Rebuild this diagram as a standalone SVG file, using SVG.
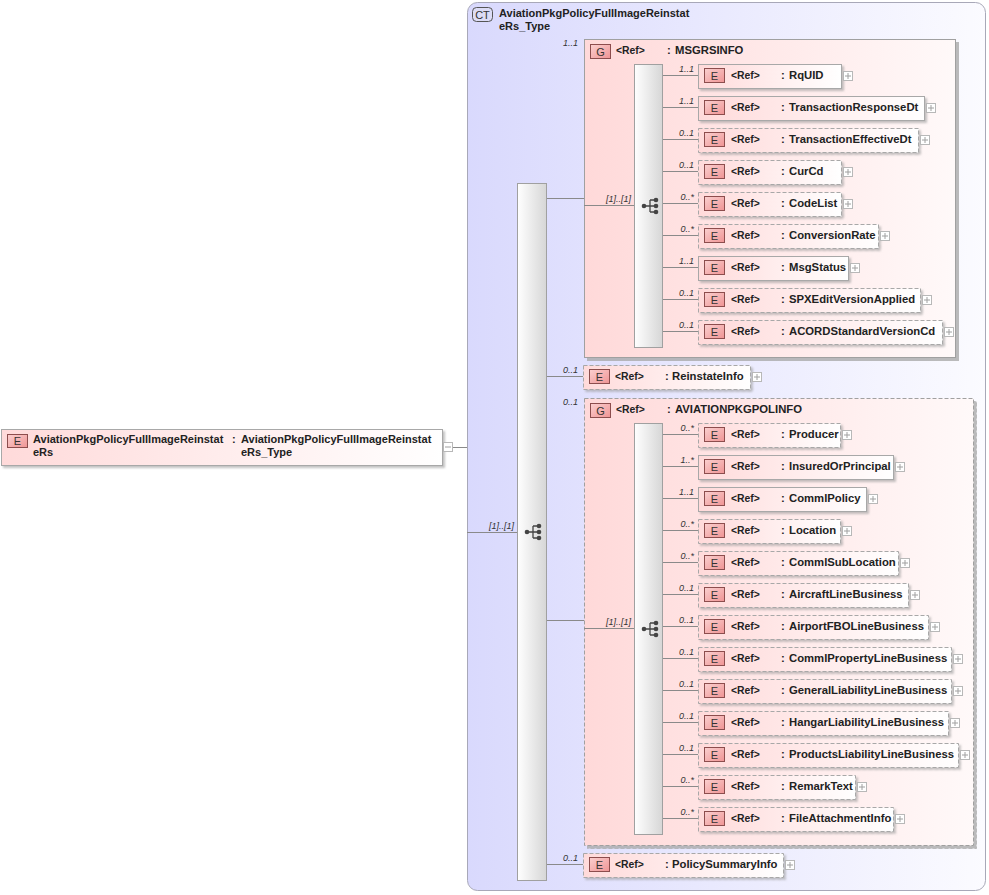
<svg xmlns="http://www.w3.org/2000/svg" width="989" height="895" viewBox="0 0 989 895">
<defs>
<linearGradient id="gCT" x1="0" y1="0" x2="1" y2="0"><stop offset="0" stop-color="#d9d9fd"/><stop offset="1" stop-color="#fbfbff"/></linearGradient>
<linearGradient id="gGrp" x1="0" y1="0" x2="1" y2="0"><stop offset="0" stop-color="#ffd9d9"/><stop offset="1" stop-color="#fff9f9"/></linearGradient>
<linearGradient id="gEl" x1="0" y1="0" x2="1" y2="0"><stop offset="0" stop-color="#ffdada"/><stop offset="1" stop-color="#ffffff"/></linearGradient>
<linearGradient id="gSeq" x1="0" y1="0" x2="1" y2="0"><stop offset="0" stop-color="#ffffff"/><stop offset="1" stop-color="#d6d6d6"/></linearGradient>
<linearGradient id="gBadge" x1="0" y1="0" x2="1" y2="1"><stop offset="0" stop-color="#fbd0d0"/><stop offset="1" stop-color="#ef9494"/></linearGradient>
<filter id="sh" x="-5%" y="-5%" width="110%" height="130%"><feDropShadow dx="2" dy="2" stdDeviation="0.8" flood-color="#999" flood-opacity="0.6"/></filter>
<filter id="shg" x="-5%" y="-5%" width="110%" height="110%"><feDropShadow dx="3" dy="3" stdDeviation="0.5" flood-color="#aaa" flood-opacity="0.8"/></filter>
</defs>
<style>
text{font-family:"Liberation Sans",Arial,sans-serif;fill:#222}
.ct{fill:url(#gCT);stroke:#a8a8b8;stroke-width:1}
.grp{fill:url(#gGrp);stroke:#a0a0a0;stroke-width:1;filter:url(#shg)}
.el{fill:url(#gEl);stroke:#a8a8a8;stroke-width:1;filter:url(#sh)}
.opt{stroke-dasharray:4 2}
.seq{fill:url(#gSeq);stroke:#a0a0a0;stroke-width:1}
.badge{fill:url(#gBadge);stroke:#8c4d4d;stroke-width:1}
.ctb{fill:#dcdcf6;stroke:#555;stroke-width:1}
.bt{font-size:11px;text-anchor:middle;fill:#333}
.ref{font-size:10.4px;font-weight:bold}
.nm{font-size:11px;font-weight:bold}
.rn{font-size:11.3px;font-weight:bold}
.occ{font-size:9px;font-style:italic;text-anchor:end;fill:#333}
.pl{fill:#fff;stroke:#b8b8b8;stroke-width:1}
.plx{stroke:#a0a0a0;stroke-width:1;fill:none}
.ln{stroke:#8a8a8a;stroke-width:1;fill:none}
.ic{stroke:#444;stroke-width:1.3;fill:none}
.icd{fill:#444}
</style>

<g id="ct-AviationPkgPolicyFullImageReinstatRs_Type">
<rect class="ct" x="467.5" y="2.5" width="518" height="888" rx="10"/>
<rect class="ctb" x="472.5" y="7.5" width="20" height="14" rx="4"/>
<text class="bt" x="482.5" y="18.5">CT</text>
<text class="nm" x="499" y="17">AviationPkgPolicyFullImageReinstat</text>
<text class="nm" x="499" y="30">eRs_Type</text>
</g>

<g id="grp-MSGRSINFO">
<rect class="grp" x="584.5" y="39.5" width="371" height="318"/>
<rect class="badge" x="590.5" y="44.5" width="20" height="14"/>
<text class="bt" x="600.5" y="55.5">G</text>
<text class="ref" x="616" y="54">&lt;Ref&gt;</text>
<text class="rn" x="667" y="54">:</text><text class="rn" x="675" y="54">MSGRSINFO</text>
</g>

<g id="grp-AVIATIONPKGPOLINFO">
<rect class="grp opt" x="584.5" y="398.5" width="389" height="447"/>
<rect class="badge" x="590.5" y="403.5" width="20" height="14"/>
<text class="bt" x="600.5" y="414.5">G</text>
<text class="ref" x="616" y="413">&lt;Ref&gt;</text>
<text class="rn" x="667" y="413">:</text><text class="rn" x="675" y="413">AVIATIONPKGPOLINFO</text>
</g>

<g id="seq-main">
<rect class="seq" x="517.5" y="183.5" width="29" height="697"/>
<path class="ic" d="M527 532H533M533 526V538M533 526H539M533 532H539M533 538H539"/>
<circle class="icd" cx="527" cy="532" r="2.3"/><circle class="icd" cx="539" cy="526" r="2.3"/><circle class="icd" cx="539" cy="532" r="2.3"/><circle class="icd" cx="539" cy="538" r="2.3"/>
</g>
<g id="seq-MSGRSINFO">
<rect class="seq" x="634.5" y="64.5" width="28" height="283"/>
<path class="ic" d="M644 206H650M650 200V212M650 200H656M650 206H656M650 212H656"/>
<circle class="icd" cx="644" cy="206" r="2.3"/><circle class="icd" cx="656" cy="200" r="2.3"/><circle class="icd" cx="656" cy="206" r="2.3"/><circle class="icd" cx="656" cy="212" r="2.3"/>
</g>
<g id="seq-AVIATIONPKGPOLINFO">
<rect class="seq" x="634.5" y="423.5" width="28" height="411"/>
<path class="ic" d="M644 629H650M650 623V635M650 623H656M650 629H656M650 635H656"/>
<circle class="icd" cx="644" cy="629" r="2.3"/><circle class="icd" cx="656" cy="623" r="2.3"/><circle class="icd" cx="656" cy="629" r="2.3"/><circle class="icd" cx="656" cy="635" r="2.3"/>
</g>

<g id="connectors">
<path class="ln" d="M453 447.5H467M467 532.5H517M547 198.5H584M584 205.5H634M547 376.5H583M547 620.5H584M584 628.5H634M547 864.5H583"/>
<path class="ln" d="M663 75.5H698M663 107.5H698M663 139.5H698M663 171.5H698M663 203.5H698M663 235.5H698M663 267.5H698M663 299.5H698M663 331.5H698"/>
<path class="ln" d="M663 434.5H698M663 466.5H698M663 498.5H698M663 530.5H698M663 562.5H698M663 594.5H698M663 626.5H698M663 658.5H698M663 690.5H698M663 722.5H698M663 754.5H698M663 786.5H698M663 818.5H698"/>
<text class="occ" x="514" y="529">[1]..[1]</text>
<text class="occ" x="631" y="202">[1]..[1]</text>
<text class="occ" x="631" y="625">[1]..[1]</text>
<text class="occ" x="578" y="46">1..1</text>
<text class="occ" x="578" y="373">0..1</text>
<text class="occ" x="578" y="405">0..1</text>
<text class="occ" x="578" y="861">0..1</text>
<text class="occ" x="694" y="72">1..1</text>
<text class="occ" x="694" y="104">1..1</text>
<text class="occ" x="694" y="136">0..1</text>
<text class="occ" x="694" y="168">0..1</text>
<text class="occ" x="694" y="200">0..*</text>
<text class="occ" x="694" y="232">0..*</text>
<text class="occ" x="694" y="264">1..1</text>
<text class="occ" x="694" y="296">0..1</text>
<text class="occ" x="694" y="328">0..1</text>
<text class="occ" x="694" y="431">0..*</text>
<text class="occ" x="694" y="463">1..*</text>
<text class="occ" x="694" y="495">1..1</text>
<text class="occ" x="694" y="527">0..*</text>
<text class="occ" x="694" y="559">0..*</text>
<text class="occ" x="694" y="591">0..1</text>
<text class="occ" x="694" y="623">0..1</text>
<text class="occ" x="694" y="655">0..1</text>
<text class="occ" x="694" y="687">0..1</text>
<text class="occ" x="694" y="719">0..1</text>
<text class="occ" x="694" y="751">0..1</text>
<text class="occ" x="694" y="783">0..*</text>
<text class="occ" x="694" y="815">0..*</text>
</g>

<g id="el-AviationPkgPolicyFullImageReinstatRs">
<rect class="el" x="1.5" y="429.5" width="441" height="36"/>
<rect class="badge" x="7.5" y="434.5" width="20" height="13"/>
<text class="bt" x="17.5" y="445">E</text>
<text class="nm" x="33" y="443">AviationPkgPolicyFullImageReinstat</text>
<text class="nm" x="33" y="456">eRs</text>
<text class="nm" x="232" y="443">:</text>
<text class="nm" x="241" y="443">AviationPkgPolicyFullImageReinstat</text>
<text class="nm" x="241" y="456">eRs_Type</text>
<rect class="pl" x="443.5" y="442.5" width="9" height="9"/><path class="plx" d="M445 447H451"/>
</g>

<g id="el-RqUID"><rect class="el" x="698.5" y="64.5" width="143" height="24"/><rect class="badge" x="704.5" y="68.5" width="20" height="14"/><text class="bt" x="714.5" y="79.5">E</text><text class="ref" x="731" y="79">&lt;Ref&gt;</text><text class="rn" x="781" y="79">:</text><text class="rn" x="789" y="79">RqUID</text><rect class="pl" x="843.5" y="71.5" width="9" height="9"/><path class="plx" d="M845 76H851M848 73V79"/></g>
<g id="el-TransactionResponseDt"><rect class="el" x="698.5" y="96.5" width="226" height="24"/><rect class="badge" x="704.5" y="100.5" width="20" height="14"/><text class="bt" x="714.5" y="111.5">E</text><text class="ref" x="731" y="111">&lt;Ref&gt;</text><text class="rn" x="781" y="111">:</text><text class="rn" x="789" y="111">TransactionResponseDt</text><rect class="pl" x="926.5" y="103.5" width="9" height="9"/><path class="plx" d="M928 108H934M931 105V111"/></g>
<g id="el-TransactionEffectiveDt"><rect class="el opt" x="698.5" y="128.5" width="220" height="24"/><rect class="badge" x="704.5" y="132.5" width="20" height="14"/><text class="bt" x="714.5" y="143.5">E</text><text class="ref" x="731" y="143">&lt;Ref&gt;</text><text class="rn" x="781" y="143">:</text><text class="rn" x="789" y="143">TransactionEffectiveDt</text><rect class="pl" x="920.5" y="135.5" width="9" height="9"/><path class="plx" d="M922 140H928M925 137V143"/></g>
<g id="el-CurCd"><rect class="el opt" x="698.5" y="160.5" width="143" height="24"/><rect class="badge" x="704.5" y="164.5" width="20" height="14"/><text class="bt" x="714.5" y="175.5">E</text><text class="ref" x="731" y="175">&lt;Ref&gt;</text><text class="rn" x="781" y="175">:</text><text class="rn" x="789" y="175">CurCd</text><rect class="pl" x="843.5" y="167.5" width="9" height="9"/><path class="plx" d="M845 172H851M848 169V175"/></g>
<g id="el-CodeList"><rect class="el opt" x="698.5" y="192.5" width="143" height="24"/><rect class="badge" x="704.5" y="196.5" width="20" height="14"/><text class="bt" x="714.5" y="207.5">E</text><text class="ref" x="731" y="207">&lt;Ref&gt;</text><text class="rn" x="781" y="207">:</text><text class="rn" x="789" y="207">CodeList</text><rect class="pl" x="843.5" y="199.5" width="9" height="9"/><path class="plx" d="M845 204H851M848 201V207"/></g>
<g id="el-ConversionRate"><rect class="el opt" x="698.5" y="224.5" width="180" height="24"/><rect class="badge" x="704.5" y="228.5" width="20" height="14"/><text class="bt" x="714.5" y="239.5">E</text><text class="ref" x="731" y="239">&lt;Ref&gt;</text><text class="rn" x="781" y="239">:</text><text class="rn" x="789" y="239">ConversionRate</text><rect class="pl" x="880.5" y="231.5" width="9" height="9"/><path class="plx" d="M882 236H888M885 233V239"/></g>
<g id="el-MsgStatus"><rect class="el" x="698.5" y="256.5" width="150" height="24"/><rect class="badge" x="704.5" y="260.5" width="20" height="14"/><text class="bt" x="714.5" y="271.5">E</text><text class="ref" x="731" y="271">&lt;Ref&gt;</text><text class="rn" x="781" y="271">:</text><text class="rn" x="789" y="271">MsgStatus</text><rect class="pl" x="850.5" y="263.5" width="9" height="9"/><path class="plx" d="M852 268H858M855 265V271"/></g>
<g id="el-SPXEditVersionApplied"><rect class="el opt" x="698.5" y="288.5" width="222" height="24"/><rect class="badge" x="704.5" y="292.5" width="20" height="14"/><text class="bt" x="714.5" y="303.5">E</text><text class="ref" x="731" y="303">&lt;Ref&gt;</text><text class="rn" x="781" y="303">:</text><text class="rn" x="789" y="303">SPXEditVersionApplied</text><rect class="pl" x="922.5" y="295.5" width="9" height="9"/><path class="plx" d="M924 300H930M927 297V303"/></g>
<g id="el-ACORDStandardVersionCd"><rect class="el opt" x="698.5" y="320.5" width="244" height="24"/><rect class="badge" x="704.5" y="324.5" width="20" height="14"/><text class="bt" x="714.5" y="335.5">E</text><text class="ref" x="731" y="335">&lt;Ref&gt;</text><text class="rn" x="781" y="335">:</text><text class="rn" x="789" y="335">ACORDStandardVersionCd</text><rect class="pl" x="944.5" y="327.5" width="9" height="9"/><path class="plx" d="M946 332H952M949 329V335"/></g>

<g id="el-ReinstateInfo"><rect class="el opt" x="583.5" y="365.5" width="167" height="24"/><rect class="badge" x="589.5" y="369.5" width="20" height="14"/><text class="bt" x="599.5" y="380.5">E</text><text class="ref" x="615" y="380">&lt;Ref&gt;</text><text class="rn" x="665" y="380">:</text><text class="rn" x="672" y="380">ReinstateInfo</text><rect class="pl" x="752.5" y="372.5" width="9" height="9"/><path class="plx" d="M754 377H760M757 374V380"/></g>

<g id="el-Producer"><rect class="el opt" x="698.5" y="423.5" width="142" height="24"/><rect class="badge" x="704.5" y="427.5" width="20" height="14"/><text class="bt" x="714.5" y="438.5">E</text><text class="ref" x="731" y="438">&lt;Ref&gt;</text><text class="rn" x="781" y="438">:</text><text class="rn" x="789" y="438">Producer</text><rect class="pl" x="842.5" y="430.5" width="9" height="9"/><path class="plx" d="M844 435H850M847 432V438"/></g>
<g id="el-InsuredOrPrincipal"><rect class="el" x="698.5" y="455.5" width="195" height="24"/><rect class="badge" x="704.5" y="459.5" width="20" height="14"/><text class="bt" x="714.5" y="470.5">E</text><text class="ref" x="731" y="470">&lt;Ref&gt;</text><text class="rn" x="781" y="470">:</text><text class="rn" x="789" y="470">InsuredOrPrincipal</text><rect class="pl" x="895.5" y="462.5" width="9" height="9"/><path class="plx" d="M897 467H903M900 464V470"/></g>
<g id="el-CommlPolicy"><rect class="el" x="698.5" y="487.5" width="168" height="24"/><rect class="badge" x="704.5" y="491.5" width="20" height="14"/><text class="bt" x="714.5" y="502.5">E</text><text class="ref" x="731" y="502">&lt;Ref&gt;</text><text class="rn" x="781" y="502">:</text><text class="rn" x="789" y="502">CommlPolicy</text><rect class="pl" x="868.5" y="494.5" width="9" height="9"/><path class="plx" d="M870 499H876M873 496V502"/></g>
<g id="el-Location"><rect class="el opt" x="698.5" y="519.5" width="142" height="24"/><rect class="badge" x="704.5" y="523.5" width="20" height="14"/><text class="bt" x="714.5" y="534.5">E</text><text class="ref" x="731" y="534">&lt;Ref&gt;</text><text class="rn" x="781" y="534">:</text><text class="rn" x="789" y="534">Location</text><rect class="pl" x="842.5" y="526.5" width="9" height="9"/><path class="plx" d="M844 531H850M847 528V534"/></g>
<g id="el-CommlSubLocation"><rect class="el opt" x="698.5" y="551.5" width="200" height="24"/><rect class="badge" x="704.5" y="555.5" width="20" height="14"/><text class="bt" x="714.5" y="566.5">E</text><text class="ref" x="731" y="566">&lt;Ref&gt;</text><text class="rn" x="781" y="566">:</text><text class="rn" x="789" y="566">CommlSubLocation</text><rect class="pl" x="900.5" y="558.5" width="9" height="9"/><path class="plx" d="M902 563H908M905 560V566"/></g>
<g id="el-AircraftLineBusiness"><rect class="el opt" x="698.5" y="583.5" width="210" height="24"/><rect class="badge" x="704.5" y="587.5" width="20" height="14"/><text class="bt" x="714.5" y="598.5">E</text><text class="ref" x="731" y="598">&lt;Ref&gt;</text><text class="rn" x="781" y="598">:</text><text class="rn" x="789" y="598">AircraftLineBusiness</text><rect class="pl" x="910.5" y="590.5" width="9" height="9"/><path class="plx" d="M912 595H918M915 592V598"/></g>
<g id="el-AirportFBOLineBusiness"><rect class="el opt" x="698.5" y="615.5" width="230" height="24"/><rect class="badge" x="704.5" y="619.5" width="20" height="14"/><text class="bt" x="714.5" y="630.5">E</text><text class="ref" x="731" y="630">&lt;Ref&gt;</text><text class="rn" x="781" y="630">:</text><text class="rn" x="789" y="630">AirportFBOLineBusiness</text><rect class="pl" x="930.5" y="622.5" width="9" height="9"/><path class="plx" d="M932 627H938M935 624V630"/></g>
<g id="el-CommlPropertyLineBusiness"><rect class="el opt" x="698.5" y="647.5" width="253" height="24"/><rect class="badge" x="704.5" y="651.5" width="20" height="14"/><text class="bt" x="714.5" y="662.5">E</text><text class="ref" x="731" y="662">&lt;Ref&gt;</text><text class="rn" x="781" y="662">:</text><text class="rn" x="789" y="662">CommlPropertyLineBusiness</text><rect class="pl" x="953.5" y="654.5" width="9" height="9"/><path class="plx" d="M955 659H961M958 656V662"/></g>
<g id="el-GeneralLiabilityLineBusiness"><rect class="el opt" x="698.5" y="679.5" width="253" height="24"/><rect class="badge" x="704.5" y="683.5" width="20" height="14"/><text class="bt" x="714.5" y="694.5">E</text><text class="ref" x="731" y="694">&lt;Ref&gt;</text><text class="rn" x="781" y="694">:</text><text class="rn" x="789" y="694">GeneralLiabilityLineBusiness</text><rect class="pl" x="953.5" y="686.5" width="9" height="9"/><path class="plx" d="M955 691H961M958 688V694"/></g>
<g id="el-HangarLiabilityLineBusiness"><rect class="el opt" x="698.5" y="711.5" width="250" height="24"/><rect class="badge" x="704.5" y="715.5" width="20" height="14"/><text class="bt" x="714.5" y="726.5">E</text><text class="ref" x="731" y="726">&lt;Ref&gt;</text><text class="rn" x="781" y="726">:</text><text class="rn" x="789" y="726">HangarLiabilityLineBusiness</text><rect class="pl" x="950.5" y="718.5" width="9" height="9"/><path class="plx" d="M952 723H958M955 720V726"/></g>
<g id="el-ProductsLiabilityLineBusiness"><rect class="el opt" x="698.5" y="743.5" width="260" height="24"/><rect class="badge" x="704.5" y="747.5" width="20" height="14"/><text class="bt" x="714.5" y="758.5">E</text><text class="ref" x="731" y="758">&lt;Ref&gt;</text><text class="rn" x="781" y="758">:</text><text class="rn" x="789" y="758">ProductsLiabilityLineBusiness</text><rect class="pl" x="960.5" y="750.5" width="9" height="9"/><path class="plx" d="M962 755H968M965 752V758"/></g>
<g id="el-RemarkText"><rect class="el opt" x="698.5" y="775.5" width="157" height="24"/><rect class="badge" x="704.5" y="779.5" width="20" height="14"/><text class="bt" x="714.5" y="790.5">E</text><text class="ref" x="731" y="790">&lt;Ref&gt;</text><text class="rn" x="781" y="790">:</text><text class="rn" x="789" y="790">RemarkText</text><rect class="pl" x="857.5" y="782.5" width="9" height="9"/><path class="plx" d="M859 787H865M862 784V790"/></g>
<g id="el-FileAttachmentInfo"><rect class="el opt" x="698.5" y="807.5" width="195" height="24"/><rect class="badge" x="704.5" y="811.5" width="20" height="14"/><text class="bt" x="714.5" y="822.5">E</text><text class="ref" x="731" y="822">&lt;Ref&gt;</text><text class="rn" x="781" y="822">:</text><text class="rn" x="789" y="822">FileAttachmentInfo</text><rect class="pl" x="895.5" y="814.5" width="9" height="9"/><path class="plx" d="M897 819H903M900 816V822"/></g>

<g id="el-PolicySummaryInfo"><rect class="el opt" x="583.5" y="853.5" width="200" height="24"/><rect class="badge" x="589.5" y="857.5" width="20" height="14"/><text class="bt" x="599.5" y="868.5">E</text><text class="ref" x="615" y="868">&lt;Ref&gt;</text><text class="rn" x="665" y="868">:</text><text class="rn" x="672" y="868">PolicySummaryInfo</text><rect class="pl" x="785.5" y="860.5" width="9" height="9"/><path class="plx" d="M787 865H793M790 862V868"/></g>
</svg>
